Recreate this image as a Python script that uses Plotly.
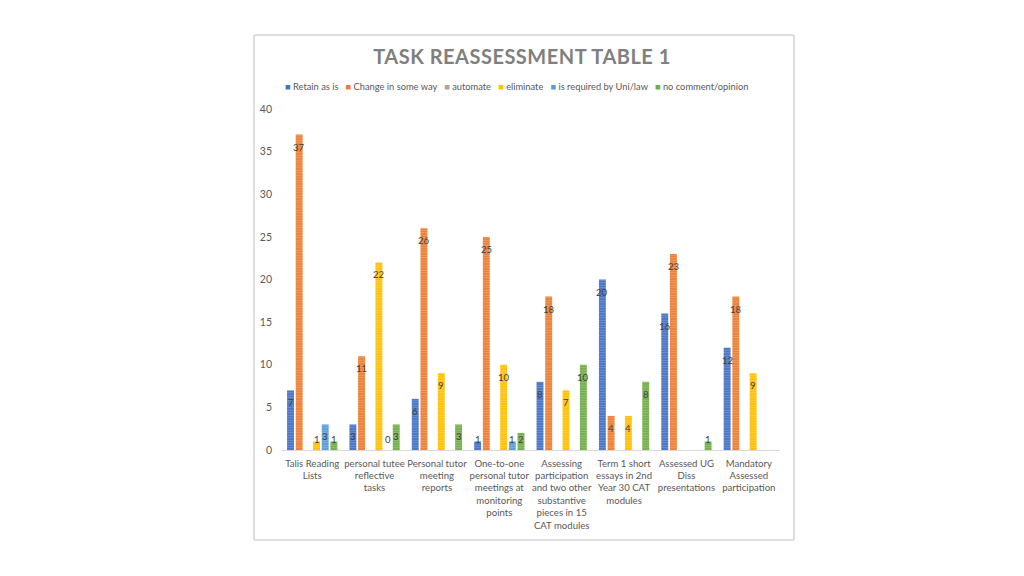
import plotly.graph_objects as go

categories = [
    "Talis Reading<br>Lists",
    "personal tutee<br>reflective<br>tasks",
    "Personal tutor<br>meeting<br>reports",
    "One-to-one<br>personal tutor<br>meetings at<br>monitoring<br>points",
    "Assessing<br>participation<br>and two other<br>substantive<br>pieces in 15<br>CAT modules",
    "Term 1 short<br>essays in 2nd<br>Year 30 CAT<br>modules",
    "Assessed UG<br>Diss<br>presentations",
    "Mandatory<br>Assessed<br>participation",
]

series_names = ["Retain as is", "Change in some way", "automate", "eliminate",
                "is required by Uni/law", "no comment/opinion"]

retain = [7, 3, 6, 1, 8, 20, 16, 12]
change = [37, 11, 26, 25, 18, 4, 23, 18]
automate = [None, None, None, None, None, None, None, None]
eliminate = [1, 22, 9, 10, 7, 4, None, 9]
required = [3, 0, None, 1, None, None, None, None]
no_comment = [1, 3, 3, 2, 10, 8, 1, None]

series_values = [retain, change, automate, eliminate, required, no_comment]
colors = ["#4472C4", "#ED7D31", "#A5A5A5", "#FFC000", "#5B9BD5", "#70AD47"]

y_ticks = [0, 5, 10, 15, 20, 25, 30, 35, 40]
y_max = 40

FONT = "Lato"
W, H = 1008, 560           # page adds 8px body margin
OFF = 8
L, T = 281 - OFF, 109 - OFF
pw, ph = 499, 341
R, B = W - L - pw, H - T - ph
BARGAP, GROUPGAP = 0.166, 0.2

def px_x(x):
    return (x - OFF - L) / pw

def px_y(y):
    return (H - B - (y - OFF)) / ph

fig = go.Figure()
for name, vals, col in zip(series_names, series_values, colors):
    fig.add_trace(go.Bar(
        name=name,
        x=categories,
        y=vals,
        marker=dict(color=col, line=dict(width=0),
                    pattern=dict(shape="-", fgcolor="rgba(255,255,255,0.5)",
                                 size=2.5, solidity=0.4, fillmode="overlay")),
        showlegend=False,
    ))

# data labels (inside end, like the original)
ppu = ph / y_max
cat_w = pw / len(categories)
slot = cat_w * (1 - BARGAP) / len(series_names)
for i, (vals, col) in enumerate(zip(series_values, colors)):
    for cat, v in zip(categories, vals):
        if v is None:
            continue
        ylab = max(v - 12.5 / ppu, 11 / ppu)
        fig.add_annotation(x=cat, y=ylab, xref="x", yref="y", text=str(v),
                           showarrow=False, xshift=(i - (len(series_names) - 1) / 2) * slot,
                           xanchor="center", yanchor="middle",
                           font=dict(family=FONT, size=9.5, color="#404040"))

# custom compact legend (same order as series)
legend_parts = []
for name, col in zip(series_names, colors):
    legend_parts.append('<span style="color:%s">■</span> %s' % (col, name))
legend_text = "&nbsp;&nbsp;&nbsp;".join(legend_parts)

fig.add_annotation(text=legend_text, xref="paper", yref="paper",
                   x=px_x(516), y=px_y(86), xanchor="center", yanchor="middle",
                   showarrow=False, font=dict(family=FONT, size=9.3, color="#595959"))

fig.add_shape(type="rect", xref="paper", yref="paper",
              x0=px_x(254), x1=px_x(794), y0=px_y(540), y1=px_y(35),
              line=dict(color="#BFBFBF", width=1), fillcolor="rgba(0,0,0,0)", layer="below")

fig.update_layout(
    width=W, height=H, autosize=False,
    margin=dict(l=L, r=R, t=T, b=B),
    paper_bgcolor="white", plot_bgcolor="white",
    barmode="group", bargap=BARGAP, bargroupgap=GROUPGAP,
    title=dict(text='<b><span style="letter-spacing:0.5px">TASK REASSESSMENT TABLE 1</span></b>',
               x=(522 - OFF) / W, xref="container", y=1 - (57 - OFF) / H, yref="container",
               xanchor="center", yanchor="middle",
               font=dict(family=FONT, size=20, color="#7F7F7F")),
    font=dict(family=FONT),
)
fig.update_yaxes(range=[0, y_max], tickvals=y_ticks, showgrid=False, zeroline=False,
                 showline=False, ticks="", tickfont=dict(family=FONT, size=10.5, color="#595959"),
                 ticklabelstandoff=8)
fig.update_xaxes(showline=True, linecolor="#D9D9D9", linewidth=1, ticks="",
                 tickfont=dict(family=FONT, size=9.6, color="#595959"), showgrid=False,
                 tickangle=0, ticklabelstandoff=4)

fig.write_html("out.html")
